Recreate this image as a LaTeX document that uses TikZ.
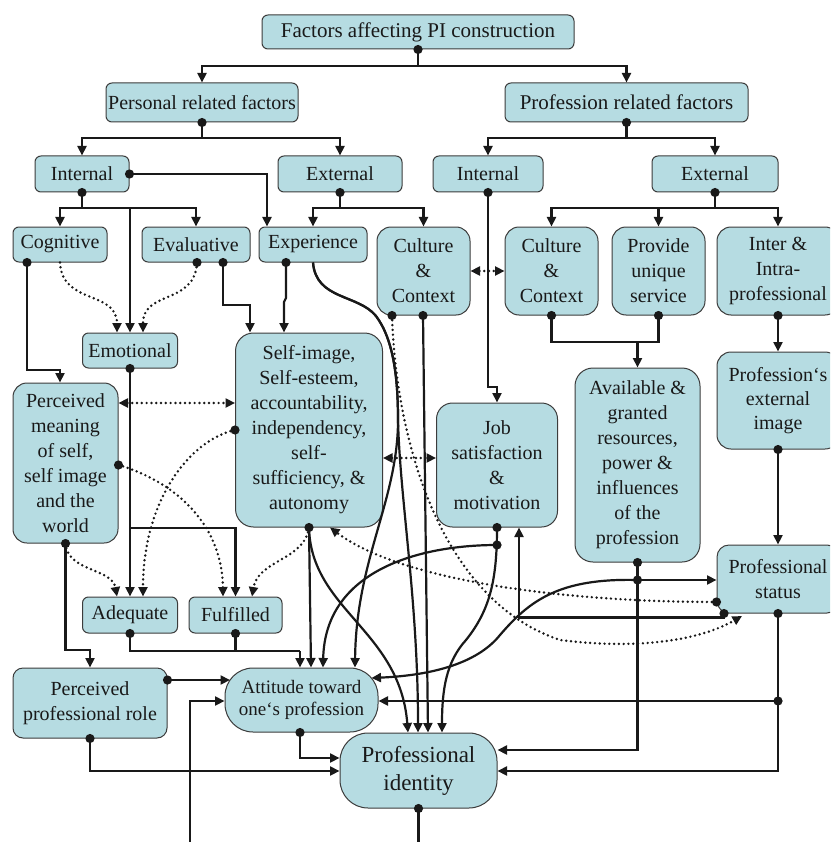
\documentclass[tikz,border=0pt]{standalone}
\usepackage{fontspec}
\setmainfont{Liberation Serif}
\usetikzlibrary{arrows.meta,calc}
\definecolor{boxfill}{RGB}{182,220,226}
\definecolor{ink}{RGB}{25,25,25}
\begin{document}
\begin{tikzpicture}[x=1pt,y=-1pt,
  box/.style={draw=ink!85, line width=1pt, fill=boxfill, rounded corners=6pt, inner sep=0pt, align=center, text=ink, font=\rmfamily\fontsize{20}{25}\selectfont},
  big/.style={box, rounded corners=#1},
  lnk/.style={draw=ink, line width=2.2pt},
  arr/.style={lnk, -{Triangle[length=9.5pt,width=9pt]}},
  dlnk/.style={draw=ink, line width=2.7pt, line cap=round, dash pattern=on 0pt off 4.8pt},
  darr/.style={dlnk, -{Triangle[length=9.5pt,width=9pt]}},
  ddarr/.style={dlnk, {Triangle[length=9.5pt,width=9pt]}-{Triangle[length=9.5pt,width=9pt]}},
  dotc/.style={fill=ink}
]
\useasboundingbox (0,0) rectangle (830,842);
\clip (0,0) rectangle (830,842);
\fill[white] (0,0) rectangle (830,842);

% ---------- nodes ----------
\node[box, minimum width=312pt, minimum height=34pt, font=\rmfamily\fontsize{21}{25}\selectfont] (fac) at (418,32) {Factors affecting PI construction};
\node[box, minimum width=192pt, minimum height=39pt, font=\rmfamily\fontsize{20}{25}\selectfont] (pers) at (202,102.5) {Personal related factors};
\node[box, minimum width=243pt, minimum height=39pt, font=\rmfamily\fontsize{21}{25}\selectfont] (prof) at (626.5,102.5) {Profession related factors};
\node[box, minimum width=94pt, minimum height=36pt] (pin) at (82,174) {Internal};
\node[box, minimum width=124pt, minimum height=36pt] (pex) at (340,174) {External};
\node[box, minimum width=110pt, minimum height=36pt] (qin) at (488,174) {Internal};
\node[box, minimum width=126pt, minimum height=36pt] (qex) at (715,174) {External};
\node[box, minimum width=94pt, minimum height=35pt] (cog) at (60,244.5) {Cognitive};
\node[box, minimum width=108pt, minimum height=35pt] (eva) at (196,244.5) {Evaluative};
\node[box, minimum width=108pt, minimum height=35pt] (exp) at (313,244.5) {Experience};
\node[big=14pt, minimum width=93pt, minimum height=88pt] (cul1) at (423.5,271) {Culture\\\&\\Context};
\node[big=14pt, minimum width=93pt, minimum height=88pt] (cul2) at (551.5,271) {Culture\\\&\\Context};
\node[big=14pt, minimum width=93pt, minimum height=88pt] (pro) at (658.5,271) {Provide\\unique\\service};
\node[big=14pt, minimum width=122pt, minimum height=88pt] (int) at (778,271) {Inter \&\\Intra-\\professional};
\node[box, minimum width=95pt, minimum height=35pt] (emo) at (130,350.5) {Emotional};
\node[big=18pt, minimum width=147pt, minimum height=194pt] (self) at (309,430) {Self-image,\\Self-esteem,\\accountability,\\independency,\\self-\\sufficiency, \&\\autonomy};
\node[big=14pt, minimum width=105pt, minimum height=160pt] (per) at (65.5,463) {Perceived\\meaning\\of self,\\self image\\and the\\world};
\node[big=16pt, minimum width=121pt, minimum height=124pt] (job) at (497,465) {Job\\satisfaction\\\&\\motivation};
\node[big=18pt, minimum width=125pt, minimum height=194pt] (ava) at (637.5,465) {Available \&\\granted\\resources,\\power \&\\influences\\of the\\profession};
\node[big=14pt, minimum width=122pt, minimum height=97pt, font=\rmfamily\fontsize{20}{24}\selectfont] (ext) at (778,400.5) {Profession‘s\\external\\image};
\node[big=12pt, minimum width=122pt, minimum height=68pt] (sta) at (778,579) {Professional\\status};
\node[box, minimum width=95pt, minimum height=36pt] (ade) at (130,615) {Adequate};
\node[box, minimum width=93pt, minimum height=36pt] (ful) at (235.5,615) {Fulfilled};
\node[big=10pt, minimum width=154pt, minimum height=70pt] (ppr) at (90,703) {Perceived\\professional role};
\node[big=28pt, minimum width=153pt, minimum height=64pt, font=\rmfamily\fontsize{19}{22}\selectfont] (att) at (301.5,700) {Attitude toward\\one‘s profession};
\node[big=28pt, minimum width=157pt, minimum height=75pt, font=\rmfamily\fontsize{23}{28}\selectfont] (pid) at (418.5,770.5) {Professional\\identity};

% ---------- helper coordinates (dots on borders) ----------
\coordinate (dCog) at (cog.south -| 27,0);
\coordinate (dEva1) at (eva.south -| 197,0);
\coordinate (dEva2) at (eva.south -| 223,0);
\coordinate (dExp) at (exp.south -| 286,0);
\coordinate (dCulA) at (cul1.south -| 392,0);
\coordinate (dCulB) at (cul1.south -| 423,0);
\coordinate (dPerR) at (per.east |- 0,465);
\coordinate (dSelfL) at (self.west |- 0,430);
\coordinate (dJob2) at (job.south |- 0,545);
\coordinate (dStaBL) at (sta.south -| 724,0);
\coordinate (dStaL) at (sta.west |- 0,602);
\coordinate (dPprR) at (ppr.east |- 0,680);
\coordinate (dAtt) at (att.south -| 300,0);

% ---------- tree part ----------
\coordinate (j1) at (418,66);
\draw[lnk] (fac.south) -- (j1);
\draw[arr] (j1) -| (pers.north);
\draw[arr] (j1) -| (prof.north);

\coordinate (j2) at (202,138);
\draw[lnk] (pers.south) -- (j2);
\draw[arr] (j2) -| (pin.north);
\draw[arr] (j2) -| (pex.north);

\coordinate (j3) at (626.5,138);
\draw[lnk] (prof.south) -- (j3);
\draw[arr] (j3) -| (qin.north);
\draw[arr] (j3) -| (qex.north);

\draw[arr] (pin.east) -| (exp.north -| 267,0);

\coordinate (j4) at (82,208);
\draw[lnk] (pin.south) -- (j4);
\draw[arr] (j4) -| (cog.north);
\draw[arr] (j4) -| (eva.north);
\draw[arr] (emo.north |- j4) -- (emo.north);

\coordinate (j5) at (340,208);
\draw[lnk] (pex.south) -- (j5);
\draw[arr] (j5) -| (exp.north);
\draw[arr] (j5) -| (cul1.north);

\coordinate (j6) at (715,208);
\draw[lnk] (qex.south) -- (j6);
\draw[arr] (j6) -| (cul2.north);
\draw[arr] (j6) -| (pro.north);
\draw[arr] (j6) -| (int.north);

\draw[arr] (qin.south) -- (qin.south |- 0,387) -| (job.north);

\coordinate (j7) at (637.5,342);
\draw[lnk] (cul2.south) |- (j7) -| (pro.south);
\draw[arr] (j7) -- (ava.north);

\draw[arr] (int.south) -- (ext.north);
\draw[arr] (ext.south) -- (sta.north);

% ---------- personal side ----------
\draw[arr] (dCog) -- (27,370) -| (per.north -| 60,0);
\draw[darr] (cog.south) .. controls (62,305) and (117,290) .. (emo.north -| 117,0);
\draw[darr] (dEva1) .. controls (195,305) and (143,290) .. (emo.north -| 143,0);
\draw[arr] (dEva2) -- (223,305) -| (self.north -| 250,0);
\draw[arr] (dExp) -- (286,298) -- (284,302) -- (self.north -| 284,0);

\draw[ddarr] (per.east |- 0,403) -- (self.west |- 0,403);
\draw[ddarr] (cul1.east) -- (cul2.west);
\draw[ddarr] (self.east |- 0,458) -- (job.west |- 0,458);

\draw[arr] (emo.south) -- (ade.north);
\draw[arr] (emo.south |- 0,528) -| (ful.north);

\draw[darr] (per.south) .. controls (68,572) and (112,568) .. (ade.north -| 117,0);
\draw[darr] (dSelfL) .. controls (190,440) and (143,500) .. (ade.north -| 143,0);
\draw[darr] (dPerR) .. controls (170,480) and (222,520) .. (ful.north -| 223,0);
\draw[darr] (self.south) .. controls (305,560) and (258,560) .. (ful.north -| 252,0);

\draw[arr] (per.south) -- (65.5,650) -| (ppr.north);
\coordinate (j8) at (300,651);
\draw[lnk] (ade.south) |- (j8);
\draw[lnk] (ful.south) -- (ful.south |- j8);
\draw[arr] (j8) -- (att.north -| 300,0);

% ---------- into attitude / identity ----------
\draw[arr] (self.south) -- (att.north -| 311,0);
\draw[arr] (self.south) .. controls (311,610) and (400,630) .. (pid.north -| 408,0);

\draw[arr] (exp.south) .. controls (316,300) and (358,294) .. (376,316) .. controls (394,340) and (398,380) .. (398,420) .. controls (398,500) and (356,560) .. (att.north -| 355,0);
\draw[arr] (exp.south) .. controls (316,300) and (358,294) .. (376,316) .. controls (394,340) and (398,380) .. (398,420) .. controls (400,500) and (418,600) .. (pid.north -| 418,0);

\draw[arr] (dCulB) -- (pid.north -| 428,0);
\draw[darr] (dCulA) .. controls (396,440) and (440,600) .. (560,640) .. controls (640,650) and (700,640) .. (742,616);

\draw[darr] (dStaL) .. controls (560,602) and (400,580) .. (self.south -| 330,0);

\draw[arr] (job.south) .. controls (497,580) and (490,610) .. (466,640) .. controls (446,662) and (442,690) .. (pid.north -| 442,0);
\draw[arr] (dJob2) .. controls (420,545) and (325,570) .. (att.north -| 323,0);
\draw[arr] (dStaBL) -- ++(0,4) -| (job.south -| 519,0);

\coordinate (j9) at (637.5,580);
\draw[lnk] (ava.south) -- (j9);
\draw[arr] (j9) -- (sta.west |- j9);
\draw[arr] (j9) |- (pid.east |- 0,750);
\draw[arr] (j9) .. controls (560,578) and (530,600) .. (500,635) .. controls (480,660) and (440,675) .. ($(att.east)+(-7,-22)$);

\coordinate (j10) at (778,701);
\draw[lnk] (sta.south) -- (j10);
\draw[arr] (j10) -- (att.east |- j10);
\draw[arr] (j10) |- (pid.east |- 0,771);

\draw[arr] (dPprR) -- ($(att.west)+(5.5,-20)$);
\draw[arr] (ppr.south) |- (pid.west |- 0,771);
\draw[arr] (dAtt) |- (pid.west |- 0,758);

\coordinate (fe1) at (190,842);
\draw[arr] (fe1) |- (att.west |- 0,701);
\coordinate (fe2) at (418.5,842);
\draw[lnk] (pid.south) -- (fe2);

% ---------- dots ----------
\foreach \n in {fac.south,pers.south,prof.south,pin.east,pin.south,pex.south,qin.south,qex.south,cul2.south,pro.south,int.south,ext.south,dCog,dEva1,dEva2,dExp,dCulA,dCulB,emo.south,dPerR,per.south,dSelfL,self.south,job.south,dJob2,ava.south,j9,sta.south,j10,dStaBL,dStaL,ade.south,ful.south,dPprR,ppr.south,dAtt,pid.south}
  \fill[dotc] (\n) circle (4.6pt);
\end{tikzpicture}
\end{document}
